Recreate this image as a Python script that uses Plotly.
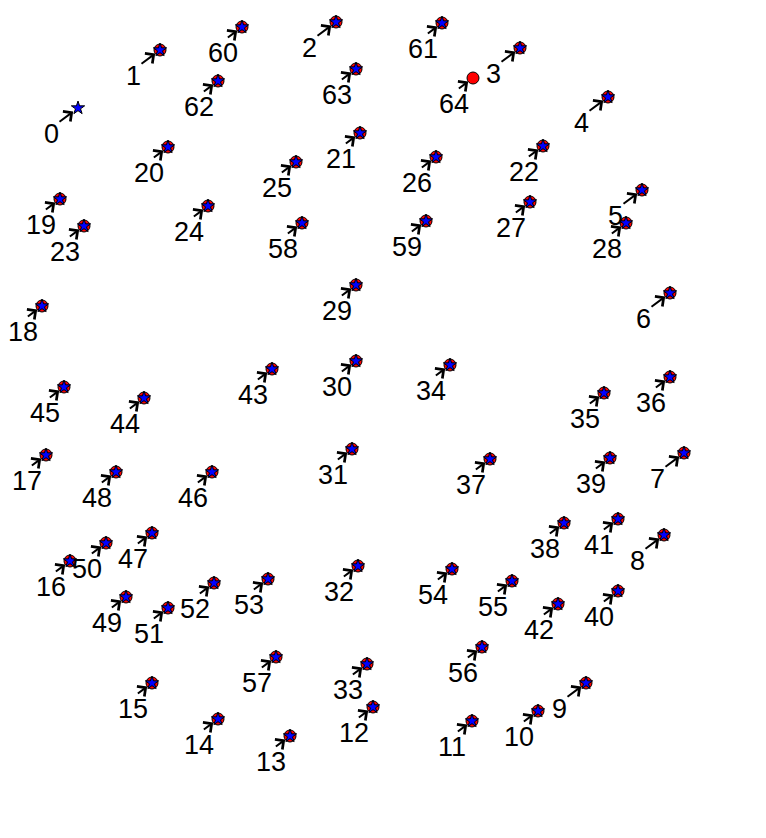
import plotly.graph_objects as go

# point ids and their positions (y grows downward)
point_ids = list(range(65))
x_vals = [78, 160, 336, 520, 608, 642, 670, 684, 664, 586,
          538, 472, 373, 290, 218, 152, 70, 46, 42, 60,
          168, 360, 543, 84, 208, 296, 436, 530, 626, 356,
          356, 352, 358, 367, 450, 604, 670, 490, 564, 610,
          618, 618, 558, 272, 144, 64, 212, 152, 116, 126,
          106, 168, 214, 268, 452, 512, 482, 276, 302, 426,
          242, 442, 218, 356, 473]
y_vals = [108, 50, 22, 48, 97, 190, 293, 453, 535, 683,
          711, 721, 707, 736, 719, 683, 561, 455, 306, 199,
          147, 133, 146, 226, 206, 162, 157, 202, 223, 285,
          361, 449, 566, 664, 365, 393, 377, 459, 523, 458,
          591, 519, 604, 369, 398, 387, 472, 533, 472, 597,
          543, 608, 583, 579, 569, 581, 647, 657, 223, 221,
          27, 23, 81, 69, 78]

# which points get a red circle / a blue star
circle_ids = [i for i in point_ids if i != 0]
star_ids = [i for i in point_ids if i != 64]

fig = go.Figure()

fig.add_trace(go.Scatter(
    x=[x_vals[i] for i in circle_ids],
    y=[y_vals[i] for i in circle_ids],
    mode="markers",
    marker=dict(symbol="circle", size=12, color="red",
                line=dict(color="black", width=1)),
    hoverinfo="skip", showlegend=False))

fig.add_trace(go.Scatter(
    x=[x_vals[i] for i in star_ids],
    y=[y_vals[i] for i in star_ids],
    mode="markers",
    marker=dict(symbol="star", size=10, color="blue",
                line=dict(color="black", width=1)),
    hoverinfo="skip", showlegend=False))

# one arrow + number per point, text sits down-left of the marker
for i in point_ids:
    fig.add_annotation(
        x=x_vals[i], y=y_vals[i], text=str(i),
        showarrow=True, ax=-35, ay=26,
        xanchor="left", yanchor="middle",
        arrowhead=4, arrowsize=1.2, arrowwidth=2, arrowcolor="black",
        standoff=6, borderpad=0,
        font=dict(family="Liberation Sans, Arial, sans-serif", size=27, color="black"))

# page body has an 8px margin, so the ranges are shifted to line up
fig.update_xaxes(range=[8, 774], visible=False, fixedrange=True)
fig.update_yaxes(range=[846, 8], visible=False, fixedrange=True)
fig.update_layout(
    width=766, height=838,
    margin=dict(l=0, r=0, t=0, b=0),
    paper_bgcolor="white", plot_bgcolor="white")

fig.write_html("out.html")
